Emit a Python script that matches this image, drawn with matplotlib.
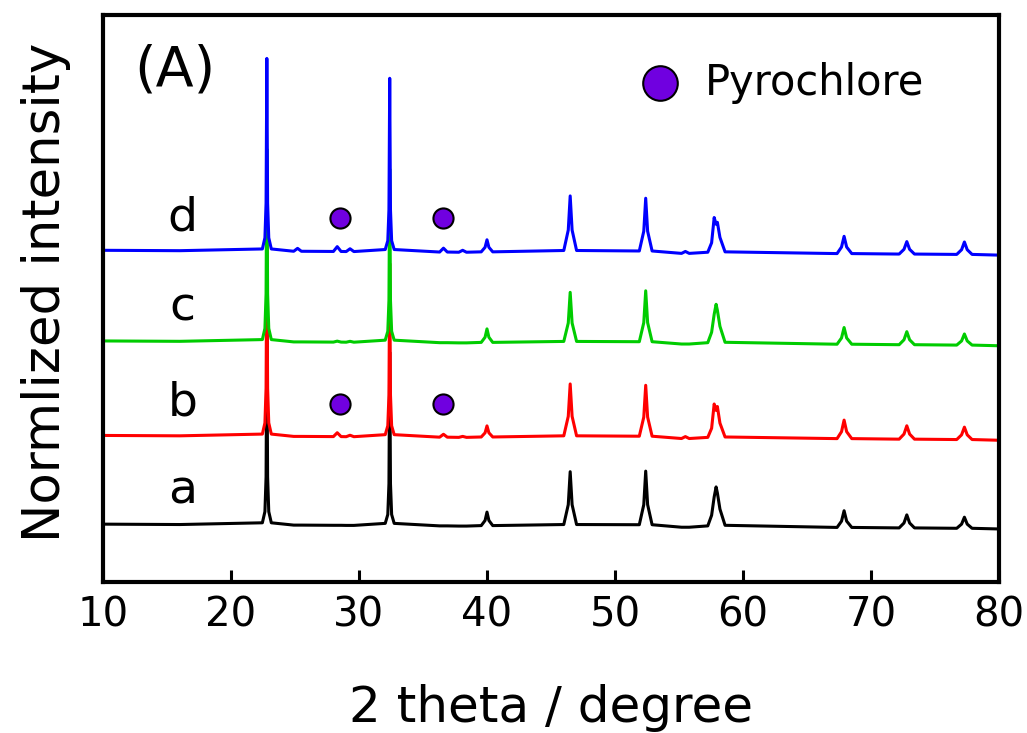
import matplotlib
matplotlib.use("Agg")
import matplotlib.pyplot as plt
import numpy as np

plt.rcParams['font.family'] = ['DejaVu Sans']

# 1. DATA (normalized intensity, main peak ~100)
two_theta = [10.0, 16.0,
             22.45, 22.65, 22.74, 22.8, 22.86, 22.95, 23.15,
             24.9, 25.2, 25.5,
             28.0, 28.3, 28.6,
             29.0, 29.3, 29.6,
             32.05, 32.25, 32.34, 32.4, 32.46, 32.55, 32.75,
             36.3, 36.6, 36.9,
             37.8, 38.1, 38.4,
             39.55, 39.85, 40.0, 40.15, 40.45,
             46.0, 46.35, 46.5, 46.65, 47.0,
             51.9, 52.25, 52.4, 52.55, 52.9,
             55.2, 55.5, 55.8,
             57.25, 57.55, 57.75, 57.9, 58.0, 58.2, 58.6,
             67.35, 67.7, 67.9, 68.1, 68.5,
             72.2, 72.58, 72.8, 73.02, 73.4,
             76.7, 77.08, 77.3, 77.52, 77.9,
             80.0]

int_a = [2.5, 2.3,
         3.2, 9.0, 27, 102, 27, 9.0, 3.2,
         2.0, 2.0, 2.0,
         1.9, 1.9, 1.9,
         1.85, 1.85, 1.85,
         2.9, 7.5, 23.5, 91.7, 23.5, 7.5, 2.9,
         1.6, 1.6, 1.6,
         1.5, 1.5, 1.5,
         1.75, 4.4, 8.75, 4.4, 1.75,
         2.3, 12.6, 29.7, 12.6, 2.3,
         2.2, 12.6, 30.0, 12.6, 2.2,
         0.9, 0.9, 0.9,
         1.6, 7.1, 16.6, 21.8, 18.7, 10.3, 1.9,
         0.8, 4.05, 9.45, 4.05, 0.8,
         0.55, 3.1, 7.3, 3.1, 0.55,
         0.35, 2.5, 6.1, 2.5, 0.35,
         0.0]

int_b = [2.5, 2.3,
         3.2, 9.0, 27, 102, 27, 9.0, 3.2,
         2.0, 2.0, 2.0,
         1.9, 3.9, 1.9,
         1.85, 2.6, 1.85,
         2.9, 7.5, 23.5, 91.7, 23.5, 7.5, 2.9,
         1.6, 3.1, 1.6,
         1.5, 2.0, 1.5,
         1.7, 3.85, 7.45, 3.85, 1.7,
         2.3, 12.4, 29.2, 12.4, 2.3,
         2.1, 12.0, 28.5, 12.0, 2.1,
         0.9, 1.9, 0.9,
         1.5, 6.2, 18.8, 15.5, 17.5, 8.9, 1.7,
         0.85, 4.45, 10.45, 4.45, 0.85,
         0.57, 3.2, 7.5, 3.2, 0.57,
         0.37, 2.8, 6.8, 2.8, 0.37,
         0.0]

int_c = [2.5, 2.3,
         3.2, 9.0, 27, 102, 27, 9.0, 3.2,
         2.0, 2.0, 2.0,
         1.9, 2.4, 1.9,
         1.85, 2.3, 1.85,
         2.9, 7.5, 23.5, 91.7, 23.5, 7.5, 2.9,
         1.6, 1.6, 1.6,
         1.5, 1.5, 1.5,
         1.75, 4.4, 8.75, 4.4, 1.75,
         2.25, 11.8, 27.7, 11.8, 2.25,
         2.1, 12.0, 28.5, 12.0, 2.1,
         0.9, 0.9, 0.9,
         1.6, 7.0, 16.3, 21.5, 18.4, 10.1, 1.8,
         0.8, 4.05, 9.45, 4.05, 0.8,
         0.55, 3.1, 7.3, 3.1, 0.55,
         0.35, 2.5, 6.1, 2.5, 0.35,
         0.0]

int_d = [2.5, 2.3,
         3.2, 9.0, 27, 102, 27, 9.0, 3.2,
         2.0, 3.5, 2.0,
         1.9, 4.4, 1.9,
         1.85, 3.3, 1.85,
         2.9, 7.5, 23.5, 91.7, 23.5, 7.5, 2.9,
         1.6, 3.6, 1.6,
         1.5, 2.5, 1.5,
         1.7, 4.05, 7.95, 4.05, 1.7,
         2.4, 13.0, 30.7, 13.0, 2.4,
         2.15, 12.4, 29.5, 12.4, 2.15,
         0.9, 1.9, 0.9,
         1.5, 6.4, 19.5, 16.0, 17.0, 9.2, 1.7,
         0.8, 4.2, 9.75, 4.2, 0.8,
         0.55, 3.0, 7.0, 3.0, 0.55,
         0.37, 2.8, 6.8, 2.8, 0.37,
         0.0]

sample_labels = ["a", "b", "c", "d"]
offsets = [27.5, 73.5, 122.5, 169.5]
colors = ["black", "#FF0000", "#00CC00", "#0000FF"]

# pyrochlore peak markers (shown on samples b and d)
pyro_2theta = [28.5, 36.6]
pyro_samples = ["b", "d"]

# 2. PLOT
fig = plt.figure(figsize=(10.27, 7.33), dpi=100)
ax = fig.add_axes([0.1003, 0.206, 0.8724, 0.7735])

for lab, y, off, col in zip(sample_labels, [int_a, int_b, int_c, int_d], offsets, colors):
    ax.plot(two_theta, np.array(y) + off, color=col, lw=2.2)
    ax.text(16.2, off + 13, lab, fontsize=34, ha="center", va="baseline")

for lab in pyro_samples:
    off = offsets[sample_labels.index(lab)]
    ax.scatter(pyro_2theta, [off + 19] * len(pyro_2theta), s=210,
               color="#7000E0", edgecolor="black", linewidth=1.5, zorder=5)

# legend drawn by hand
ax.scatter([0.622], [0.88], s=620, color="#7000E0", edgecolor="black",
           linewidth=1.5, transform=ax.transAxes, zorder=5, clip_on=False)
ax.text(0.672, 0.88, "Pyrochlore", fontsize=30, transform=ax.transAxes,
        ha="left", va="center")

ax.text(0.035, 0.95, "(A)", fontsize=40, transform=ax.transAxes,
        ha="left", va="top")

ax.set_xlim(10, 80)
ax.set_ylim(0, 294)
ax.set_xticks(np.arange(10, 81, 10))
ax.set_yticks([])
ax.tick_params(axis="x", direction="in", length=9, width=2.2,
               labelsize=29, pad=10)
for s in ax.spines.values():
    s.set_linewidth(3)

ax.set_xlabel("2 theta / degree", fontsize=36)
ax.xaxis.set_label_coords(0.5, -0.18)
ax.set_ylabel("Normlized intensity", fontsize=37)
ax.yaxis.set_label_coords(-0.036, 0.51)

fig.savefig("out.png", dpi=100)
